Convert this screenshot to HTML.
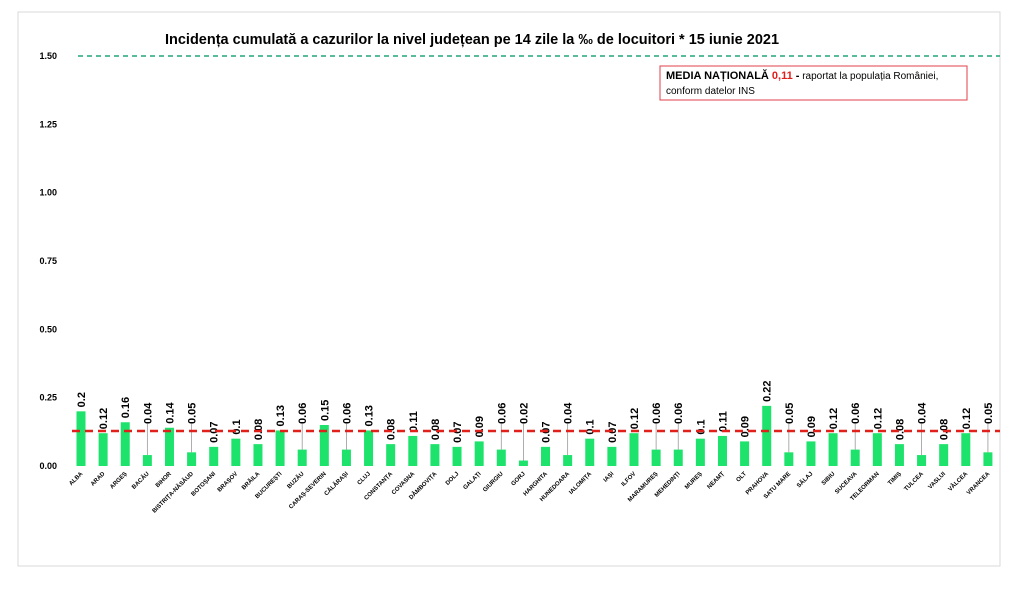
<!DOCTYPE html>
<html><head><meta charset="utf-8"><style>
body{margin:0;background:#fff;font-family:"Liberation Sans",sans-serif}
</style></head><body>
<svg width="1032" height="589" xmlns="http://www.w3.org/2000/svg">
<rect x="18" y="12" width="982" height="554" fill="#fff" stroke="#d9d9d9"/>
<text x="472" y="44" text-anchor="middle" font-size="14.5" font-weight="bold" fill="#000">Incidența cumulată a cazurilor la nivel județean pe 14 zile la ‰ de locuitori *  15 iunie 2021</text>
<g id="yaxis"></g>
<line x1="78" y1="56" x2="1000" y2="56" stroke="#21a67a" stroke-width="1.5" stroke-dasharray="5,4"/>
<g id="bars"></g>
<g id="cats"></g>
<line id="avg" stroke="#e0201b" stroke-width="2.5" stroke-dasharray="8,5"/>
<g>
<rect x="660" y="66" width="307" height="34" fill="#fff" stroke="#e0404a"/>
<text x="666" y="79" font-size="11" fill="#000"><tspan font-weight="bold">MEDIA NAȚIONALĂ </tspan><tspan font-weight="bold" fill="#e0201b"> 0,11 </tspan><tspan font-weight="bold">-</tspan><tspan font-size="10"> raportat la populația României,</tspan></text>
<text x="666" y="94" font-size="10" fill="#000">conform datelor INS</text>
</g>
</svg>
<script>
const categories=["ALBA","ARAD","ARGEȘ","BACĂU","BIHOR","BISTRIȚA-NĂSĂUD","BOTOȘANI","BRAȘOV","BRĂILA","BUCUREȘTI","BUZĂU","CARAȘ-SEVERIN","CĂLĂRAȘI","CLUJ","CONSTANȚA","COVASNA","DÂMBOVIȚA","DOLJ","GALAȚI","GIURGIU","GORJ","HARGHITA","HUNEDOARA","IALOMIȚA","IAȘI","ILFOV","MARAMUREȘ","MEHEDINȚI","MUREȘ","NEAMȚ","OLT","PRAHOVA","SATU MARE","SĂLAJ","SIBIU","SUCEAVA","TELEORMAN","TIMIȘ","TULCEA","VASLUI","VÂLCEA","VRANCEA"];
const values=[0.2,0.12,0.16,0.04,0.14,0.05,0.07,0.1,0.08,0.13,0.06,0.15,0.06,0.13,0.08,0.11,0.08,0.07,0.09,0.06,0.02,0.07,0.04,0.1,0.07,0.12,0.06,0.06,0.1,0.11,0.09,0.22,0.05,0.09,0.12,0.06,0.12,0.08,0.04,0.08,0.12,0.05];
const valueLabels=["0.2","0.12","0.16","0.04","0.14","0.05","0.07","0.1","0.08","0.13","0.06","0.15","0.06","0.13","0.08","0.11","0.08","0.07","0.09","0.06","0.02","0.07","0.04","0.1","0.07","0.12","0.06","0.06","0.1","0.11","0.09","0.22","0.05","0.09","0.12","0.06","0.12","0.08","0.04","0.08","0.12","0.05"];
const yTicks=[0,0.25,0.5,0.75,1,1.25,1.5];
const yTickLabels=["0.00","0.25","0.50","0.75","1.00","1.25","1.50"];
const averageLine=0.128;
const NS="http://www.w3.org/2000/svg";
const y=v=>466-v*273.3;
const x=i=>81+i*22.12;
function mk(t,a,p){const e=document.createElementNS(NS,t);for(const k in a)e.setAttribute(k,a[k]);p.appendChild(e);return e;}
const ya=document.getElementById('yaxis');
yTicks.forEach((v,i)=>{const t=mk('text',{x:57,y:y(v)+3,'text-anchor':'end','font-size':9,'font-weight':'bold',fill:'#000'},ya);


t.textContent=yTickLabels[i];});
const bg=document.getElementById('bars'),cg=document.getElementById('cats');
values.forEach((v,i)=>{
const cx=x(i),top=y(v);
const r=mk('rect',{x:cx-4.5,y:top,width:9,height:466-top,fill:'#1de26b'},bg);


const lb=v<0.07?424:top-4;
if(lb<top-5){const l=mk('line',{x1:cx,y1:lb,x2:cx,y2:top,stroke:'#999','stroke-width':0.8},bg);

}
const t=mk('text',{x:cx+4,y:lb,'font-size':11,'font-weight':'bold',fill:'#000',transform:`rotate(-90 ${cx+4} ${lb})`},bg);


t.textContent=valueLabels[i];
const c=mk('text',{x:cx+2,y:474,'font-size':6,'font-weight':'bold','text-anchor':'end',fill:'#000',transform:`rotate(-45 ${cx+2} 474)`},cg);


c.textContent=categories[i];
});
const a=document.getElementById('avg');
a.setAttribute('x1',72);a.setAttribute('x2',1000);a.setAttribute('y1',y(averageLine));a.setAttribute('y2',y(averageLine));
</script>
</body></html>
